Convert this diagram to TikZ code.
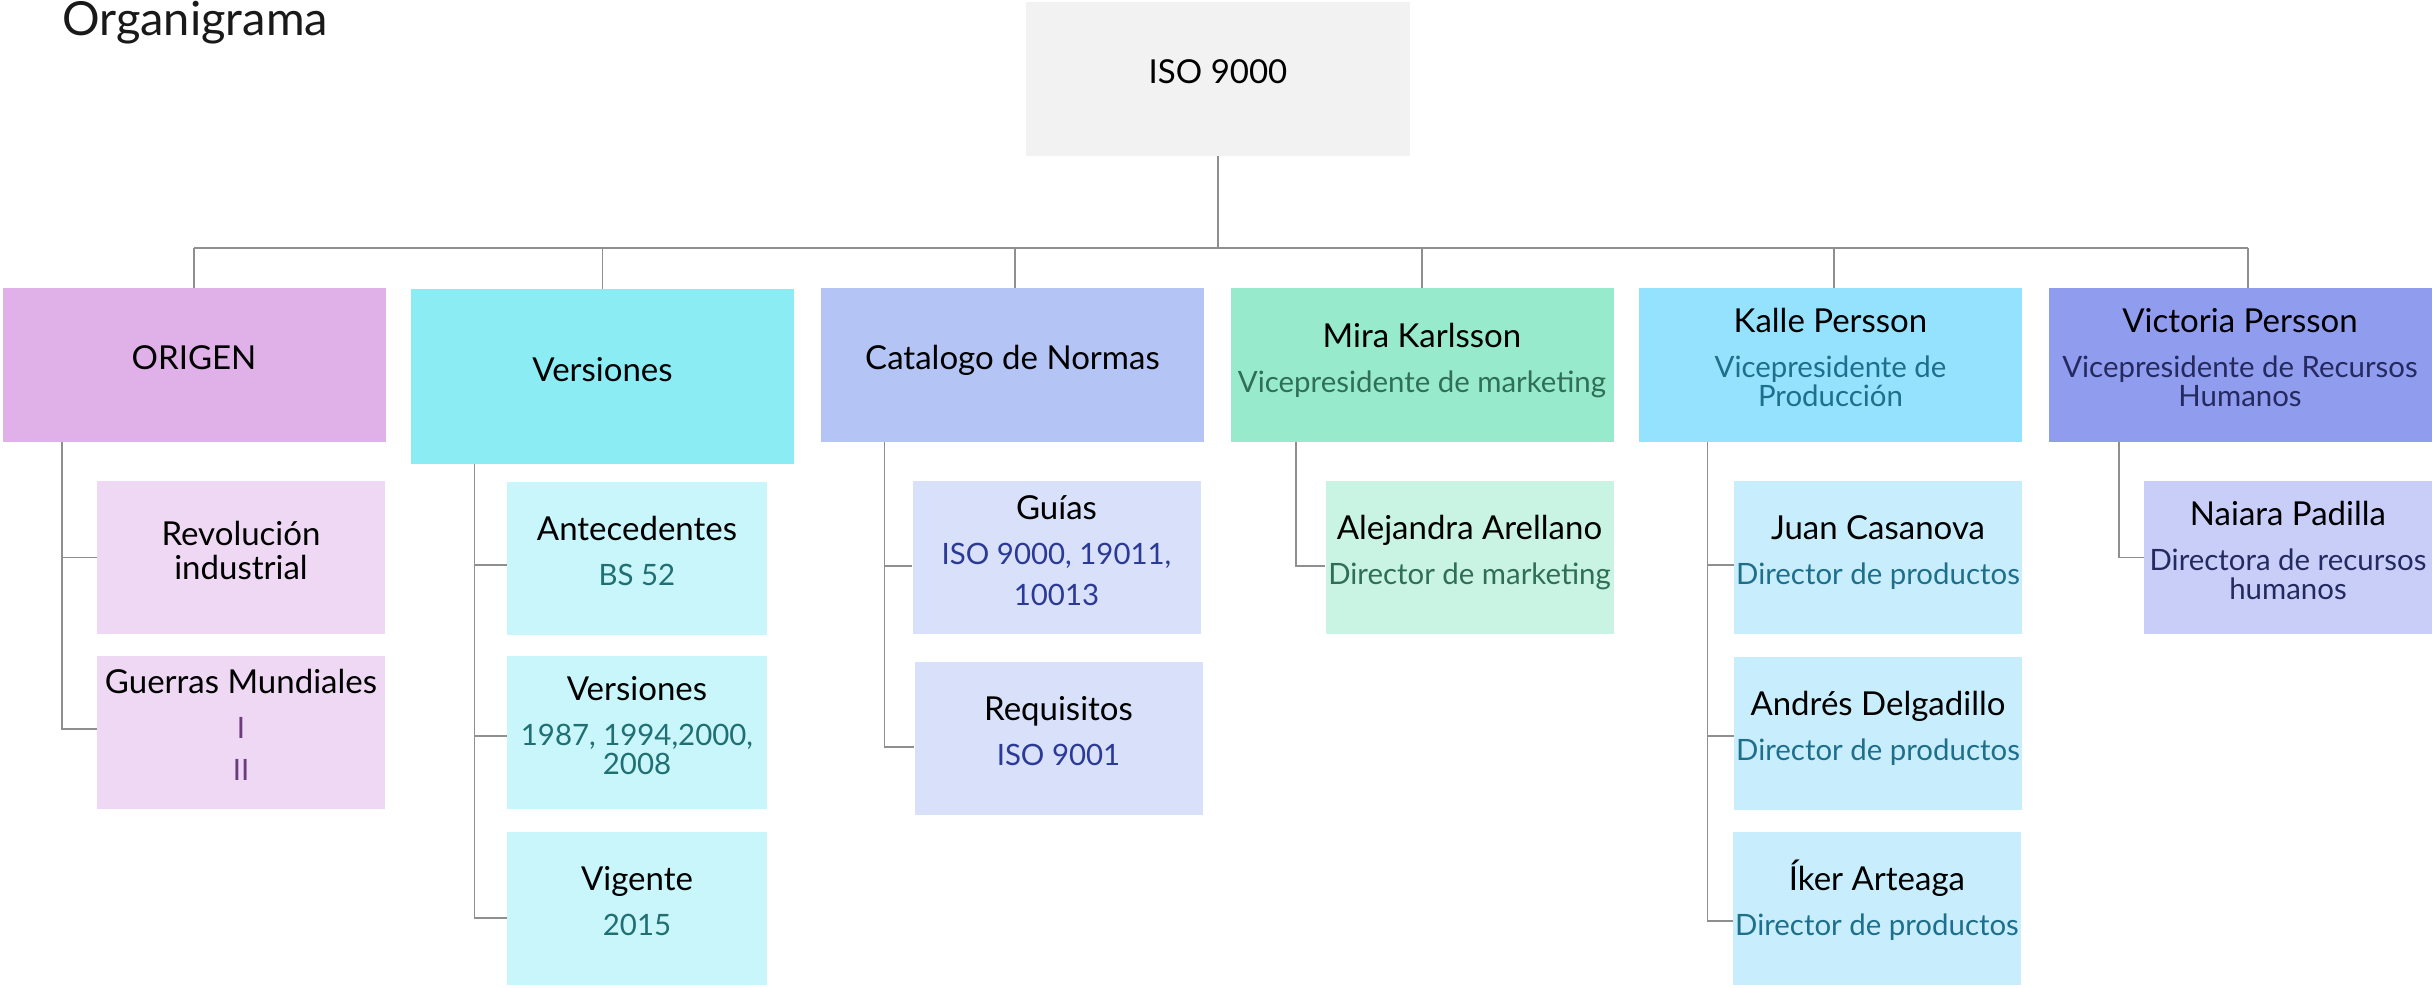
\documentclass[tikz,border=0pt]{standalone}
\usepackage{fontspec}
\setmainfont{Lato}
\definecolor{isoC}{HTML}{F2F2F2}
\definecolor{orC}{HTML}{E0B0E8}\definecolor{orL}{HTML}{EED8F4}
\definecolor{veC}{HTML}{8CECF4}\definecolor{veL}{HTML}{C8F6FA}
\definecolor{caC}{HTML}{B4C4F4}\definecolor{caL}{HTML}{D9E0F9}
\definecolor{miC}{HTML}{98EACC}\definecolor{miL}{HTML}{C9F4E3}
\definecolor{kaC}{HTML}{94E2FE}\definecolor{kaL}{HTML}{C8EEFD}
\definecolor{viC}{HTML}{909CEE}\definecolor{viL}{HTML}{C8CEF8}
\definecolor{orT}{HTML}{6B3D7D}
\definecolor{veT}{HTML}{1F6F73}
\definecolor{caT}{HTML}{2B3A96}
\definecolor{miT}{HTML}{2F6F55}
\definecolor{kaT}{HTML}{1E6F8C}
\definecolor{viT}{HTML}{24295F}
\definecolor{lineC}{HTML}{8F8F8F}
\newcommand\subt[2]{{\color{#1}\fontsize{14.7pt}{14.5pt}\selectfont #2}}
\newcommand\tstr{\rule{0pt}{14pt}}
\newcommand\bstr{\rule[-9.25pt]{0pt}{9.25pt}}
\begin{document}
\lineskiplimit=-50pt
\begin{tikzpicture}[x=0.5pt,y=-0.5pt,
  box/.style={rectangle, inner sep=0pt, align=center, text=black,
    font=\fontsize{16.5pt}{14.5pt}\selectfont},
  topbox/.style={box, minimum width=191.5pt, minimum height=77pt},
  subbox/.style={box, minimum width=144pt, minimum height=76.5pt},
  conn/.style={draw=lineC, line width=0.7pt}]
\useasboundingbox (0,0) rectangle (2433,987);
% title
\node[anchor=base west, inner sep=0pt, font=\fontsize{23.5pt}{28pt}\selectfont, text=black!90] (title) at (62,35) {Organigrama};
% root
\node[box, fill=isoC, minimum width=192pt, minimum height=77pt] (iso) at (1218,79) {\tstr ISO 9000\bstr};
% level 1
\node[topbox, fill=orC] (origen) at (194,365) {\tstr ORIGEN\bstr};
\node[topbox, fill=veC, minimum height=87.5pt] (vers) at (602.5,376.5) {\tstr Versiones\bstr};
\node[topbox, fill=caC] (cat) at (1012.5,365) {\tstr Catalogo de Normas\bstr};
\node[topbox, fill=miC] (mira) at (1422,365) {\tstr Mira Karlsson\\[8pt]\subt{miT}{Vicepresidente de marketing}\bstr};
\node[topbox, fill=kaC] (kalle) at (1830.5,365) {\tstr Kalle Persson\\[8pt]\subt{kaT}{Vicepresidente de}\\\subt{kaT}{Producción}\bstr};
\node[topbox, fill=viC] (vic) at (2240,365) {\tstr Victoria Persson\\[8pt]\subt{viT}{Vicepresidente de Recursos}\\\subt{viT}{Humanos}\bstr};
% level 2
\node[subbox, fill=orL] (rev) at (241,557.5) {\tstr Revolución\\[2.5pt]industrial\bstr};
\node[subbox, fill=orL] (guer) at (241,732.5) {\tstr Guerras Mundiales\\[8pt]\subt{orT}{I}\\[6.5pt]\subt{orT}{II}\bstr};
\node[subbox, fill=veL, minimum width=130pt] (ante) at (637,558.5) {\tstr Antecedentes\\[8pt]\subt{veT}{BS 52}\bstr};
\node[subbox, fill=veL, minimum width=130pt] (versb) at (637,732.5) {\tstr Versiones\\[8pt]\subt{veT}{1987, 1994,2000,}\\\subt{veT}{2008}\bstr};
\node[subbox, fill=veL, minimum width=130pt] (vig) at (637,908.5) {\tstr Vigente\\[8pt]\subt{veT}{2015}\bstr};
\node[subbox, fill=caL] (guias) at (1056.5,557.5) {\tstr Guías\\[8pt]\subt{caT}{ISO 9000, 19011,}\\[6pt]\subt{caT}{10013}\bstr};
\node[subbox, fill=caL] (req) at (1058.5,738) {\tstr Requisitos\\[8pt]\subt{caT}{ISO 9001}\bstr};
\node[subbox, fill=miL] (ale) at (1469.5,557.5) {\tstr Alejandra Arellano\\[8pt]\subt{miT}{Director de marketing}\bstr};
\node[subbox, fill=kaL] (juan) at (1878,557.5) {\tstr Juan Casanova\\[8pt]\subt{kaT}{Director de productos}\bstr};
\node[subbox, fill=kaL] (andres) at (1878,733.5) {\tstr Andrés Delgadillo\\[8pt]\subt{kaT}{Director de productos}\bstr};
\node[subbox, fill=kaL] (iker) at (1877,908.5) {\tstr\smash{Íker Arteaga}\\[8pt]\subt{kaT}{Director de productos}\bstr};
\node[subbox, fill=viL] (naiara) at (2288,557.5) {\tstr Naiara Padilla\\[8pt]\subt{viT}{Directora de recursos}\\\subt{viT}{humanos}\bstr};
% connectors
\coordinate (bus) at (1218,248);
\draw[conn] (iso.south) -- (iso.south |- bus);
\draw[conn] (origen.north |- bus) -- ([xshift=4pt]vic.north |- bus);
\draw[conn] (origen.north) -- (origen.north |- bus);
\draw[conn] (vers.north) -- (vers.north |- bus);
\draw[conn] ([xshift=1.25pt]cat.north) -- ([xshift=1.25pt]cat.north |- bus);
\draw[conn] (mira.north) -- (mira.north |- bus);
\draw[conn] ([xshift=1.75pt]kalle.north) -- ([xshift=1.75pt]kalle.north |- bus);
\draw[conn] ([xshift=4pt]vic.north) -- ([xshift=4pt]vic.north |- bus);
\draw[conn] ([xshift=30pt]origen.south west) |- (rev.west);
\draw[conn] ([xshift=30pt]origen.south west) |- ([yshift=1.75pt]guer.west);
\draw[conn] ([xshift=32pt]vers.south west) |- ([yshift=-3.25pt]ante.west);
\draw[conn] ([xshift=32pt]vers.south west) |- ([yshift=-1.75pt]versb.west);
\draw[conn] ([xshift=32pt]vers.south west) |- ([yshift=-4.75pt]vig.west);
\draw[conn] ([xshift=32pt]cat.south west) |- ([yshift=-4.25pt]guias.west);
\draw[conn] ([xshift=32pt]cat.south west) |- ([yshift=-4.5pt]req.west);
\draw[conn] ([xshift=33pt]mira.south west) |- ([yshift=-4.25pt]ale.west);
\draw[conn] ([xshift=34.5pt]kalle.south west) |- ([yshift=-3.75pt]juan.west);
\draw[conn] ([xshift=34.5pt]kalle.south west) |- ([yshift=-1.25pt]andres.west);
\draw[conn] ([xshift=34.5pt]kalle.south west) |- ([yshift=-6.25pt]iker.west);
\draw[conn] ([xshift=35.5pt]vic.south west) |- (naiara.west);
\end{tikzpicture}
\end{document}
